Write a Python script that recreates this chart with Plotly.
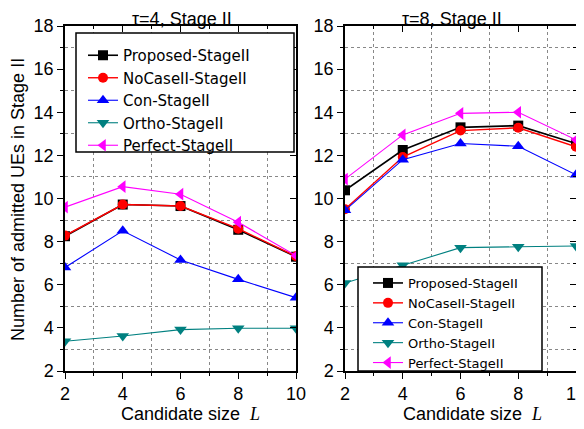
import plotly.graph_objects as go

L_vals = [2, 4, 6, 8, 10]
series_names = ["Proposed-StageII", "NoCaseII-StageII", "Con-StageII", "Ortho-StageII", "Perfect-StageII"]

tau4_proposed = [8.25, 9.72, 9.65, 8.55, 7.30]
tau4_nocase = [8.28, 9.72, 9.65, 8.60, 7.32]
tau4_con = [6.80, 8.50, 7.15, 6.25, 5.40]
tau4_ortho = [3.38, 3.62, 3.92, 3.98, 3.98]
tau4_perfect = [9.60, 10.55, 10.20, 8.90, 7.35]

tau8_proposed = [10.38, 12.25, 13.30, 13.38, 12.55]
tau8_nocase = [9.50, 11.92, 13.15, 13.28, 12.40]
tau8_con = [9.45, 11.80, 12.55, 12.42, 11.10]
tau8_ortho = [6.08, 6.90, 7.72, 7.76, 7.80]
tau8_perfect = [10.90, 12.95, 13.95, 14.00, 12.72]

panel_titles = ["\u03c4=4, Stage II", "\u03c4=8, Stage II"]
y_title = "Number of admitted UEs in Stage II"
x_title = "Candidate size  <i><span style='font-family:Liberation Serif'>L</span></i>"

colors = ["#000000", "#FF0000", "#0000FF", "#008080", "#FF00FF"]
symbols = ["square", "circle", "triangle-up", "triangle-down", "triangle-left"]
msizes = [10, 10, 11, 11, 11]
lwidths = [1.6, 1.4, 1.1, 1.1, 1.1]

FONT = "Liberation Sans, Arial, sans-serif"
LFONT = "DejaVu Sans, Liberation Sans, sans-serif"
OFF = 8  # page body margin
W, H = 584 - OFF, 429 - OFF

fig = go.Figure()

panels = [
    ([tau4_proposed, tau4_nocase, tau4_con, tau4_ortho, tau4_perfect], "x", "y", "legend"),
    ([tau8_proposed, tau8_nocase, tau8_con, tau8_ortho, tau8_perfect], "x2", "y2", "legend2"),
]
for data, xa, ya, lg in panels:
    for i, vals in enumerate(data):
        fig.add_trace(go.Scatter(
            x=L_vals, y=vals, name=series_names[i], mode="lines+markers",
            line=dict(color=colors[i], width=lwidths[i]),
            marker=dict(symbol=symbols[i], size=msizes[i], color=colors[i]),
            xaxis=xa, yaxis=ya, legend=lg,
        ))

# invisible traces for mirror (inside-tick) axes
for xa, ya in [("x3", "y3"), ("x4", "y4")]:
    fig.add_trace(go.Scatter(x=[None], y=[None], xaxis=xa, yaxis=ya,
                             showlegend=False, hoverinfo="skip"))

px = lambda p: (p - OFF) / W
py = lambda p: 1 - (p - OFF) / H

xdom1 = [px(65), px(296)]
xdom2 = [px(345), px(576)]
ydom = [py(371), py(26)]

common_x = dict(range=[2, 10], tick0=2, dtick=2, showgrid=False, zeroline=False,
                showline=True, linecolor="black", linewidth=1.5,
                ticks="outside", ticklen=6, tickwidth=1.2, tickcolor="black",
                tickfont=dict(family=FONT, size=18, color="black"),
                ticklabeloverflow="allow",
                minor=dict(dtick=1, tick0=1, ticks="outside", ticklen=3, tickcolor="black",
                           showgrid=True, gridcolor="#888888", griddash="dot", gridwidth=1),
                fixedrange=True, automargin=False)
common_y = dict(range=[2, 18], tick0=2, dtick=2, showgrid=False, zeroline=False,
                showline=True, linecolor="black", linewidth=1.5,
                ticks="outside", ticklen=6, tickwidth=1.2, tickcolor="black",
                tickfont=dict(family=FONT, size=18, color="black"),
                minor=dict(dtick=1, tick0=1, ticks="outside", ticklen=3, tickcolor="black",
                           showgrid=True, gridcolor="#888888", griddash="dot", gridwidth=1),
                fixedrange=True, automargin=False)
mirror_x = dict(range=[2, 10], tick0=2, dtick=2, showgrid=False, zeroline=False,
                showline=True, linecolor="black", linewidth=1.5, side="top",
                ticks="inside", ticklen=6, tickwidth=1.2, tickcolor="black",
                showticklabels=False,
                minor=dict(dtick=1, tick0=1, ticks="inside", ticklen=3, tickcolor="black"),
                fixedrange=True, automargin=False)
mirror_y = dict(range=[2, 18], tick0=2, dtick=2, showgrid=False, zeroline=False,
                showline=True, linecolor="black", linewidth=1.5, side="right",
                ticks="inside", ticklen=6, tickwidth=1.2, tickcolor="black",
                showticklabels=False,
                minor=dict(dtick=1, tick0=1, ticks="inside", ticklen=3, tickcolor="black"),
                fixedrange=True, automargin=False)

legend_common = dict(
    bgcolor="rgba(0,0,0,0)", borderwidth=0,
    xanchor="left", yanchor="top", tracegroupgap=0, itemwidth=30,
)


def ann(text, x, y, size=18, angle=0):
    return dict(text=text, x=px(x), y=py(y), xref="paper", yref="paper",
                xanchor="center", yanchor="middle", textangle=angle,
                showarrow=False, font=dict(family=FONT, size=size, color="black"))


def box(x0, y0, x1, y1):
    return dict(type="rect", xref="paper", yref="paper",
                x0=px(x0), x1=px(x1), y0=py(y1), y1=py(y0),
                fillcolor="white", line=dict(color="black", width=1.5), layer="above")


fig.update_layout(
    width=W, height=H,
    margin=dict(l=0, r=0, t=0, b=0, pad=0, autoexpand=False),
    paper_bgcolor="white", plot_bgcolor="white",
    font=dict(family=FONT, color="black"),
    xaxis=dict(common_x, domain=xdom1, anchor="y"),
    yaxis=dict(common_y, domain=ydom, anchor="x"),
    xaxis2=dict(common_x, domain=xdom2, anchor="y2"),
    yaxis2=dict(common_y, domain=ydom, anchor="x2"),
    xaxis3=dict(mirror_x, domain=xdom1, anchor="y3", overlaying="x"),
    yaxis3=dict(mirror_y, domain=ydom, anchor="x3", overlaying="y"),
    xaxis4=dict(mirror_x, domain=xdom2, anchor="y4", overlaying="x2"),
    yaxis4=dict(mirror_y, domain=ydom, anchor="x4", overlaying="y2"),
    legend=dict(legend_common, x=px(83), y=py(39), font=dict(family=LFONT, size=15, color="black")),
    legend2=dict(legend_common, x=px(368), y=py(268), font=dict(family=LFONT, size=13, color="black")),
    showlegend=True,
    shapes=[box(76, 33, 294, 152), box(358, 267, 542, 371)],
    annotations=[
        ann(panel_titles[0], 182, 19),
        ann(panel_titles[1], 452, 19),
        ann(y_title, 18, 200, angle=-90),
        ann(x_title, 190, 414),
        ann(x_title, 472, 414),
    ],
)

fig.write_html("out.html")
